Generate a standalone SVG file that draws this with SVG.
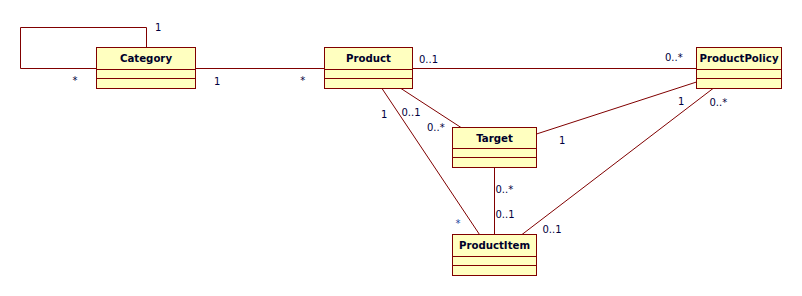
<svg xmlns="http://www.w3.org/2000/svg" width="802" height="296" viewBox="0 0 802 296">
  <style>
    .box { fill: #ffffc0; stroke: #800000; stroke-width: 1; }
    .sep { stroke: #800000; stroke-width: 1; }
    .name { font-family: "DejaVu Sans", Verdana, sans-serif; font-weight: bold; font-size: 10.2px; fill: #00002a; text-anchor: middle; }
    .conn { fill: none; stroke: #800000; stroke-width: 1; }
    .mult { font-family: "DejaVu Sans", Verdana, sans-serif; font-size: 10px; fill: #000040; }
  </style>
  <rect width="802" height="296" fill="#ffffff"/>

  <!-- associations -->
  <g id="connectors">
    <polyline class="conn" points="146.5,47.5 146.5,27.5 20.5,27.5 20.5,68.5 96.5,68.5"/>
    <line class="conn" x1="195.5" y1="68.5" x2="324.5" y2="68.5"/>
    <line class="conn" x1="412.5" y1="68.5" x2="696.5" y2="68.5"/>
    <line class="conn" x1="401" y1="88.5" x2="461" y2="127.5"/>
    <line class="conn" x1="382" y1="88.5" x2="479.5" y2="234.5"/>
    <line class="conn" x1="696.5" y1="82" x2="536.5" y2="134"/>
    <line class="conn" x1="713" y1="88.5" x2="522" y2="234.5"/>
    <line class="conn" x1="494.5" y1="167.5" x2="494.5" y2="234.5"/>

    <!-- multiplicities -->
    <text class="mult" x="155" y="31">1</text>
    <text class="mult" x="75" y="84" text-anchor="middle">*</text>
    <text class="mult" x="214" y="85">1</text>
    <text class="mult" x="302.7" y="83.5" text-anchor="middle">*</text>
    <text class="mult" x="419" y="63">0..1</text>
    <text class="mult" x="665" y="61">0..*</text>
    <text class="mult" x="678" y="104.5">1</text>
    <text class="mult" x="709.5" y="105.5">0..*</text>
    <text class="mult" x="559" y="143.7">1</text>
    <text class="mult" x="381" y="117.5">1</text>
    <text class="mult" x="401.5" y="116">0..1</text>
    <text class="mult" x="427" y="130.7">0..*</text>
    <text class="mult" x="495.5" y="193.3">0..*</text>
    <text class="mult" x="495.5" y="217.5">0..1</text>
    <text class="mult" x="542.5" y="233.3">0..1</text>
    <text class="mult" x="458" y="226.5" text-anchor="middle" fill="#1f3f9f" style="fill:#1f3f9f">*</text>
  </g>

  <!-- classes -->
  <g id="category">
    <rect class="box" x="96.5" y="47.5" width="99" height="41"/>
    <line class="sep" x1="96.5" y1="69.5" x2="195.5" y2="69.5"/>
    <line class="sep" x1="96.5" y1="78.5" x2="195.5" y2="78.5"/>
    <text class="name" x="146" y="61.5">Category</text>
  </g>

  <g id="product">
    <rect class="box" x="324.5" y="47.5" width="88" height="41"/>
    <line class="sep" x1="324.5" y1="69.5" x2="412.5" y2="69.5"/>
    <line class="sep" x1="324.5" y1="78.5" x2="412.5" y2="78.5"/>
    <text class="name" x="368.5" y="61.5">Product</text>
  </g>

  <g id="product-policy">
    <rect class="box" x="696.5" y="47.5" width="85" height="41"/>
    <line class="sep" x1="696.5" y1="69.5" x2="781.5" y2="69.5"/>
    <line class="sep" x1="696.5" y1="78.5" x2="781.5" y2="78.5"/>
    <text class="name" x="739" y="61.5">ProductPolicy</text>
  </g>

  <g id="target">
    <rect class="box" x="452.5" y="127.5" width="84" height="40"/>
    <line class="sep" x1="452.5" y1="148.5" x2="536.5" y2="148.5"/>
    <line class="sep" x1="452.5" y1="157.5" x2="536.5" y2="157.5"/>
    <text class="name" x="494.5" y="141.5">Target</text>
  </g>

  <g id="product-item">
    <rect class="box" x="452.5" y="234.5" width="84" height="41"/>
    <line class="sep" x1="452.5" y1="256.5" x2="536.5" y2="256.5"/>
    <line class="sep" x1="452.5" y1="265.5" x2="536.5" y2="265.5"/>
    <text class="name" x="494.5" y="248.5">ProductItem</text>
  </g>
</svg>
